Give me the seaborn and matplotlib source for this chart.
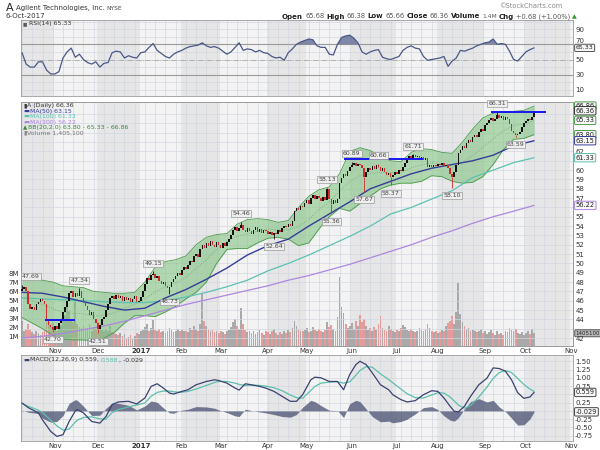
import matplotlib
matplotlib.use("Agg")
import matplotlib.pyplot as plt
import numpy as np
import seaborn as sns
from matplotlib.transforms import blended_transform_factory as blend

# ---------------- data ----------------
MONTH_IDX = [16, 37, 58, 78, 97, 120, 139, 161, 183, 203, 226, 246, 268]
MONTH_LBL = ['Nov', 'Dec', '2017', 'Feb', 'Mar', 'Apr', 'May', 'Jun', 'Jul', 'Aug', 'Sep', 'Oct', 'Nov']

OPEN0 = 47.0
CLOSE = [
    47.3, 47.5, 47.0, 45.6, 45.1, 45.3, 45.0, 45.6, 45.9, 46.2,
    46.0, 45.7, 43.8, 43.4, 43.2, 42.9, 43.3, 43.0, 43.6, 44.0,
    44.8, 45.3, 46.0, 46.8, 47.0, 46.4, 46.8, 46.5, 47.0, 46.3,
    45.8, 45.4, 45.0, 44.5, 44.8, 44.0, 43.6, 43.0, 43.4, 44.0,
    44.3, 45.0, 45.6, 46.3, 46.5, 46.2, 46.6, 46.3, 46.5, 46.0,
    46.4, 46.1, 46.3, 45.9, 46.2, 46.5, 45.9, 46.0, 46.4, 47.0,
    47.8, 48.4, 48.2, 48.8, 48.9, 48.4, 48.7, 48.1, 47.8, 48.0,
    47.6, 47.4, 47.5, 48.0, 48.3, 48.6, 49.0, 48.8, 49.3, 49.6,
    49.4, 49.8, 50.3, 50.1, 50.8, 51.0, 50.7, 51.5, 52.0, 51.6,
    52.2, 51.9, 52.4, 52.0, 51.8, 52.3, 52.0, 51.7, 52.2, 51.9,
    52.3, 52.6, 53.0, 53.6, 53.9, 53.5, 53.8, 54.1, 53.6, 53.4,
    53.8, 53.5, 53.2, 53.6, 53.9, 53.4, 53.7, 53.3, 53.6, 53.5,
    53.2, 53.4, 53.0, 53.3, 53.1, 53.6, 53.4, 53.8, 54.0, 53.9,
    54.2, 54.0, 54.6, 55.6, 55.9, 55.7, 56.2, 56.0, 56.5, 56.8,
    56.4, 57.0, 57.3, 56.9, 57.2, 57.0, 56.7, 57.1, 56.8, 58.0,
    56.9, 56.4, 56.8, 56.5, 56.9, 58.6, 59.2, 59.6, 59.4, 59.9,
    60.3, 60.6, 60.8, 60.4, 60.7, 60.5, 60.2, 59.3, 59.8, 60.2,
    60.0, 60.4, 60.1, 60.5, 60.3, 59.9, 60.2, 59.8, 59.5, 59.7,
    59.3, 59.5, 59.8, 59.6, 60.0, 59.9, 60.3, 60.8, 61.2, 61.5,
    61.3, 61.6, 61.4, 61.5, 61.2, 61.4, 61.1, 61.3, 60.3, 60.5,
    60.3, 60.6, 60.4, 60.7, 60.5, 60.8, 60.4, 60.6, 60.2, 59.6,
    59.3, 59.8, 60.5, 61.8, 62.2, 62.6, 62.4, 62.9, 63.2, 63.0,
    63.5, 63.8, 63.6, 64.1, 64.4, 64.2, 64.8, 65.1, 65.4, 65.6,
    65.3, 65.5, 65.9, 65.6, 65.8, 65.4, 65.7, 65.5, 64.9, 64.2,
    64.0, 63.8, 63.9, 64.1, 64.6, 65.0, 65.3, 65.5, 65.4, 65.68,
    66.36]

VOLUME_M = [
    2.8, 1.6, 1.9, 2.4, 1.8, 1.5, 1.3, 1.6, 1.4, 1.2,
    1.5, 1.7, 3.2, 2.6, 2.2, 2.5, 1.9, 1.6, 2.0, 2.3,
    2.8, 3.4, 4.6, 3.9, 3.0, 2.6, 5.0, 2.4, 2.1, 2.0,
    2.2, 1.8, 2.0, 2.4, 1.7, 2.1, 1.9, 2.6, 2.0, 1.8,
    1.6, 1.9, 1.7, 2.2, 1.5, 1.4, 1.3, 1.2, 1.4, 1.1,
    1.3, 0.9, 1.0, 1.2, 0.8, 1.1, 1.4, 1.3, 1.6, 1.8,
    2.1, 2.4, 1.7, 2.0, 2.9, 1.8, 1.6, 1.9, 1.5, 1.7,
    1.4, 1.6, 2.0, 1.8, 1.5, 1.7, 1.9, 1.6, 1.8, 1.6,
    1.7, 1.5, 2.0, 1.8, 2.2, 1.9, 1.7, 2.4, 5.8, 2.8,
    2.2, 1.9, 1.6, 1.8, 1.5, 1.7, 1.4, 1.6, 1.5, 1.3,
    1.6, 1.8, 2.1, 2.6, 3.0, 2.2, 1.9, 4.2, 2.4, 1.8,
    1.5, 1.7, 1.4, 1.6, 1.3, 1.5, 1.8, 1.4, 1.2, 1.6,
    1.5, 1.3, 1.7, 1.9, 1.4, 1.2, 1.5, 1.3, 1.6, 1.4,
    1.8, 1.5, 2.0, 2.8, 2.2, 1.9, 1.7, 1.6, 1.8, 2.0,
    1.5, 1.7, 2.1, 1.8, 1.6, 1.9, 1.7, 1.5, 1.8, 2.6,
    2.1, 2.3, 1.9, 1.7, 3.2, 7.6, 4.3, 3.6, 2.4, 2.0,
    2.2, 2.5, 1.9, 2.8, 2.2, 3.4, 2.6, 3.0, 2.2, 1.8,
    2.0, 1.7, 2.1, 1.9, 2.4, 3.3, 2.0, 1.8, 1.6, 2.2,
    1.9, 1.7, 1.5, 1.8, 1.6, 2.0, 2.3, 2.1, 1.8, 1.7,
    1.9, 1.6, 1.5, 1.7, 2.0, 1.8, 1.6, 1.9, 2.4, 2.0,
    1.7, 1.5, 1.6, 1.4, 1.5, 1.8, 1.6, 2.2, 2.5, 2.8,
    3.3, 2.4, 3.8, 6.9, 3.5, 2.6, 2.2, 1.9, 2.0, 1.7,
    1.8, 1.6, 1.5, 1.7, 1.9, 1.4, 1.6, 1.3, 1.5, 1.8,
    1.4, 1.2, 1.6, 1.3, 1.4, 1.2, 1.7, 1.5, 2.0, 1.8,
    1.6, 1.9, 1.4, 1.3, 1.5, 1.2, 1.4, 1.6, 1.3, 1.9,
    1.405]

HI_IDX = [0, 28, 64, 107, 149, 161, 174, 191, 232]
HI_VAL = [47.69, 47.34, 49.15, 54.46, 58.13, 60.89, 60.66, 61.71, 66.31]
LO_IDX = [15, 37, 72, 123, 151, 167, 180, 210, 241]
LO_VAL = [42.70, 42.51, 46.73, 52.64, 55.36, 57.67, 58.37, 58.10, 63.59]

LEVEL_X0 = [11, 157, 229]
LEVEL_X1 = [26, 196, 256]
LEVEL_Y = [43.9, 61.2, 66.2]

BB_STEP = 5
BB_UPPER = [
    48.5, 48.4, 48.2, 48.0, 47.6, 47.5, 47.4, 47.0, 46.9, 46.8,
    46.8, 46.9, 48.0, 49.6, 50.2, 50.4, 50.8, 52.0, 52.8, 53.1,
    53.2, 54.2, 54.7, 54.8, 54.7, 54.4, 54.6, 56.0, 57.2, 57.9,
    58.2, 59.6, 62.0, 62.4, 62.1, 61.5, 61.0, 60.9, 61.9, 62.3,
    62.2, 61.9, 61.8, 63.0, 64.4, 65.6, 66.1, 66.2, 66.3, 66.4,
    66.86]
BB_LOWER = [
    44.2, 43.6, 43.0, 42.3, 41.9, 41.8, 41.8, 41.7, 42.0, 42.6,
    43.6, 44.4, 44.4, 44.3, 44.8, 45.4, 46.2, 46.9, 48.0, 50.0,
    51.5, 51.6, 51.6, 52.2, 52.7, 52.8, 52.6, 51.9, 52.2, 53.7,
    55.0, 55.9, 55.6, 56.4, 57.2, 58.0, 58.4, 58.6, 58.6, 58.8,
    59.4, 59.3, 58.8, 58.6, 58.7, 59.3, 60.6, 62.2, 63.3, 63.4,
    63.80]

MA_STEP = 10
MA50 = [46.9, 46.8, 46.4, 45.9, 45.4, 45.0, 45.2, 46.3, 47.2, 48.3,
        49.5, 50.9, 51.9, 52.6, 54.0, 55.3, 56.6, 58.0, 58.8, 59.6,
        60.2, 60.6, 61.0, 61.6, 62.6, 63.15]
MA100 = [46.3, 46.2, 46.1, 46.0, 45.9, 45.8, 45.8, 46.0, 46.4, 46.9,
         47.5, 48.2, 49.2, 50.0, 50.9, 51.9, 52.9, 54.0, 55.3, 56.0,
         56.9, 57.8, 59.2, 60.0, 60.8, 61.33]
MA200 = [42.0, 42.2, 42.5, 42.9, 43.3, 43.8, 44.4, 45.0, 45.6, 46.1,
         46.6, 47.1, 47.6, 48.2, 48.7, 49.3, 49.9, 50.6, 51.3, 52.0,
         52.8, 53.5, 54.3, 55.0, 55.6, 56.22]

RSI_STEP = 2
RSI = [59, 44, 40, 40, 47, 47, 36, 31, 31, 34,
       52, 60, 65, 53, 57, 50, 46, 44, 47, 40,
       45, 46, 59, 61, 60, 52, 55, 53, 52, 59,
       60, 66, 71, 62, 58, 54, 52, 57, 60, 62,
       65, 67, 68, 69, 72, 68, 66, 67, 65, 61,
       57, 60, 66, 72, 62, 64, 63, 60, 62, 59,
       58, 54, 52, 53, 49, 59, 64, 70, 73, 75,
       77, 76, 68, 66, 66, 57, 56, 70, 79, 81,
       82, 78, 72, 60, 57, 60, 62, 63, 53, 51,
       50, 52, 54, 62, 66, 68, 65, 64, 54, 49,
       50, 51, 52, 54, 41, 48, 52, 62, 61, 63,
       65, 68, 70, 72, 73, 77, 70, 71, 70, 61,
       50, 48, 54, 60, 63, 65.33]

MACD_IDX = [0, 3, 8, 10, 14, 17, 20, 23, 26, 27, 30, 34, 38, 41, 44, 47, 52, 56,
            60, 63, 66, 69, 72, 74, 77, 81, 85, 90, 94, 96, 100, 104, 106, 109,
            112, 116, 119, 123, 127, 131, 134, 137, 141, 143, 146, 150, 154, 157,
            160, 163, 165, 168, 171, 175, 179, 181, 185, 188, 192, 196, 200, 203,
            206, 209, 211, 213, 216, 219, 223, 227, 230, 233, 236, 239, 242, 245,
            248, 250]
MACD = [0.24, 0.10, -0.06, -0.27, -0.62, -0.77, -0.72, -0.32, 0.00, 0.04, -0.06,
        -0.32, -0.37, -0.17, 0.19, 0.27, 0.29, 0.21, 0.39, 0.74, 0.82, 0.69, 0.54,
        0.51, 0.57, 0.64, 0.79, 0.89, 0.94, 0.92, 0.84, 0.69, 0.63, 0.82, 0.79,
        0.74, 0.69, 0.59, 0.44, 0.29, 0.29, 0.49, 0.94, 1.02, 1.00, 0.89, 0.89,
        0.64, 1.10, 1.40, 1.50, 1.40, 1.15, 0.79, 0.64, 0.49, 0.34, 0.27, 0.31,
        0.49, 0.61, 0.59, 0.39, 0.14, -0.01, -0.03, 0.14, 0.44, 0.79, 0.99, 1.30,
        1.28, 1.20, 0.94, 0.55, 0.38, 0.42, 0.559]
SIGNAL = [0.22, 0.14, 0.02, -0.05, -0.28, -0.45, -0.58, -0.55, -0.34, -0.28, -0.20,
          -0.18, -0.24, -0.25, -0.05, 0.04, 0.12, 0.18, 0.24, 0.44, 0.56, 0.60, 0.60,
          0.58, 0.56, 0.59, 0.66, 0.77, 0.86, 0.89, 0.89, 0.84, 0.80, 0.77, 0.78,
          0.77, 0.75, 0.70, 0.61, 0.48, 0.40, 0.38, 0.62, 0.74, 0.84, 0.87, 0.88,
          0.84, 0.88, 1.08, 1.22, 1.34, 1.32, 1.12, 0.95, 0.85, 0.66, 0.52, 0.40,
          0.39, 0.48, 0.55, 0.54, 0.42, 0.30, 0.18, 0.08, 0.16, 0.42, 0.72, 0.98,
          1.16, 1.22, 1.16, 0.98, 0.80, 0.66, 0.588]

# ---------------- styling ----------------
sns.set_style("white")
plt.rcParams['font.family'] = ['DejaVu Sans']

W, H = 600, 450
BG, BG2, GRID, SPINE = '#f3f3f3', '#e6e6e6', '#d3d8e1', '#9b9b9b'
C_UP, C_DN = '#111111', '#d22b2b'
C_MA50, C_MA100, C_MA200 = '#363d98', '#5cc2b2', '#ad86e0'
C_BBF, C_BBE = '#80c380', '#4a9a4a'
C_RSI, C_MACD, C_SIG, C_HIST = '#4b5786', '#3b4270', '#5cbfae', '#4a5072'

fig = plt.figure(figsize=(6, 4.5), dpi=100)
fig.patch.set_facecolor('white')


def rect(x0, y0, x1, y1):
    return [x0 / W, 1 - y1 / H, (x1 - x0) / W, (y1 - y0) / H]


L, R = 21, 573
ax_rsi = fig.add_axes(rect(L, 20, R, 96))
ax_vol = fig.add_axes(rect(L, 102, R, 346))
ax_px = ax_vol.twinx()
ax_macd = fig.add_axes(rect(L, 355, R, 441))

XMIN, XMAX = -0.5, 269.0
starts = [-0.5] + [m - 0.5 for m in MONTH_IDX]
shade = [(starts[k], starts[k + 1]) for k in range(0, len(starts) - 1, 2)]


def base_panel(ax):
    ax.set_xlim(XMIN, XMAX)
    ax.set_facecolor(BG)
    for a, b in shade:
        ax.axvspan(a, b, color=BG2, lw=0, zorder=0)
    for xv in np.arange(0, 270, 5):
        ax.axvline(xv, color=GRID, lw=0.5, zorder=0.5)
    for s in ax.spines.values():
        s.set_color(SPINE)
        s.set_linewidth(0.6)
    ax.tick_params(length=0, labelsize=5, colors='#333333', pad=1.5)


for ax in (ax_rsi, ax_vol, ax_macd):
    base_panel(ax)
for s in ax_px.spines.values():
    s.set_color(SPINE)
    s.set_linewidth(0.6)
ax_px.tick_params(length=0, labelsize=5, colors='#333333', pad=2)


def box(ax, y, txt, ec, fc='#f6f6f6', tc='#222222', size=4.8):
    t = blend(ax.transAxes, ax.transData)
    ax.text(1.005, y, txt, transform=t, fontsize=size, va='center', ha='left', color=tc,
            bbox=dict(boxstyle='round,pad=0.18', fc=fc, ec=ec, lw=0.7), clip_on=False, zorder=10)


x = np.arange(len(CLOSE))
close = np.array(CLOSE)
opn = np.r_[OPEN0, close[:-1]]
up = close >= opn

# ---------------- RSI panel ----------------
rsi_x = np.arange(0, len(RSI) * RSI_STEP, RSI_STEP)
rsi = np.array(RSI, dtype=float)
for v in range(10, 101, 10):
    ax_rsi.axhline(v, color=GRID, lw=0.5, zorder=0.5)
ax_rsi.axhline(70, color='#9a9a9a', lw=0.8, zorder=1)
ax_rsi.axhline(30, color='#9a9a9a', lw=0.8, zorder=1)
ax_rsi.axhline(50, color='#a8a8a8', lw=0.6, ls='-.', zorder=1)
ax_rsi.fill_between(rsi_x, 70, rsi, where=rsi >= 70, interpolate=True,
                    color='#5a6590', alpha=0.75, lw=0, zorder=2)
sns.lineplot(x=rsi_x, y=rsi, ax=ax_rsi, color=C_RSI, lw=0.9, zorder=3)
ax_rsi.set_ylim(2, 102)
ax_rsi.yaxis.tick_right()
ax_rsi.set_yticks([10, 30, 50, 70, 90])
ax_rsi.set_xticks([])
ax_rsi.set_xlim(XMIN, XMAX)
ax_rsi.set_xlabel('')
ax_rsi.set_ylabel('')
for lbl in ax_rsi.get_yticklabels():
    if lbl.get_text() == '70':
        lbl.set_verticalalignment('bottom')
box(ax_rsi, 65.33, '65.33', '#555555', size=4.5)

# ---------------- price / volume panel ----------------
vol = np.array(VOLUME_M[:len(CLOSE)]) * 1e6
vcol = np.where(up[:len(vol)], '#a9a9a9', '#e69a9a')
ax_vol.bar(x[:len(vol)], vol, width=0.85, color=vcol, lw=0, zorder=2)
ax_vol.set_ylim(0, 26.9e6)
ax_vol.set_yticks([k * 1e6 for k in range(1, 9)])
ax_vol.set_yticklabels([f'{k}M' for k in range(1, 9)])
ax_vol.set_xticks(MONTH_IDX)
ax_vol.set_xticklabels(MONTH_LBL)
for lbl in ax_vol.get_xticklabels():
    if lbl.get_text() == '2017':
        lbl.set_fontweight('bold')
ax_vol.set_xlim(XMIN, XMAX)

for v in range(42, 67):
    ax_px.axhline(v, color=GRID, lw=0.5, zorder=0.5)

bb_x = np.arange(0, len(BB_UPPER) * BB_STEP, BB_STEP)
bu, bl = np.array(BB_UPPER), np.array(BB_LOWER)
ax_px.fill_between(bb_x, bl, bu, color=C_BBF, alpha=0.58, lw=0, zorder=2)
sns.lineplot(x=bb_x, y=bu, ax=ax_px, color=C_BBE, lw=0.6, zorder=2.5)
sns.lineplot(x=bb_x, y=bl, ax=ax_px, color=C_BBE, lw=0.6, zorder=2.5)
sns.lineplot(x=bb_x, y=(bu + bl) / 2, ax=ax_px, color='#78a878', lw=0.6, ls=':', zorder=2.5)

ma_x = np.arange(0, len(MA50) * MA_STEP, MA_STEP)
sns.lineplot(x=ma_x, y=MA200, ax=ax_px, color=C_MA200, lw=0.9, zorder=3)
sns.lineplot(x=ma_x, y=MA100, ax=ax_px, color=C_MA100, lw=0.9, zorder=3)
sns.lineplot(x=ma_x, y=MA50, ax=ax_px, color=C_MA50, lw=1.0, zorder=3)

ccol = np.where(up, C_UP, C_DN)
body = close - opn
body = np.where(np.abs(body) < 0.08, np.where(body >= 0, 0.08, -0.08), body)
ax_px.bar(x, body, bottom=opn, width=0.75, color=ccol, lw=0, zorder=5)

ax_px.hlines(LEVEL_Y, LEVEL_X0, LEVEL_X1, color='#1717f0', lw=1.4, zorder=6)

lab_kw = dict(fontsize=4.5, color='#444444', textcoords='offset points', zorder=8,
              bbox=dict(boxstyle='square,pad=0.15', fc='#eeeeee', ec='#9a9a9a', lw=0.5))
for i, v in zip(HI_IDX, HI_VAL):
    ax_px.vlines(i, close[i], v, color=ccol[i], lw=0.6, zorder=5)
    ax_px.annotate(f'{v:.2f}', xy=(i, v), xytext=(0, 4), va='bottom',
                   ha='left' if i < 3 else 'center', **lab_kw)
for i, v in zip(LO_IDX, LO_VAL):
    ax_px.vlines(i, v, close[i], color=ccol[i], lw=0.6, zorder=5)
    ax_px.annotate(f'{v:.2f}', xy=(i, v), xytext=(0, -4), va='top', ha='center', **lab_kw)

ax_px.set_ylim(41.15, 67.3)
px_ticks = [v for v in range(42, 63) if v not in (43, 56, 61)]
ax_px.set_yticks(px_ticks)
ax_px.set_xlim(XMIN, XMAX)
ax_px.set_xlabel('')
ax_px.set_ylabel('')

box(ax_px, 66.86, '66.86', C_BBE)
box(ax_px, 66.36, '66.36', '#333333')
box(ax_px, 65.33, '65.33', C_BBE)
box(ax_px, 63.80, '63.80', C_BBE)
box(ax_px, 63.15, '63.15', C_MA50)
box(ax_px, 61.33, '61.33', C_MA100)
box(ax_px, 56.22, '56.22', C_MA200)
box(ax_vol, 1.4051e6, '1405100', '#555555', fc='#b8b8b8', size=4.0)

# ---------------- MACD panel ----------------
mx = np.array(MACD_IDX)
m, s = np.array(MACD), np.array(SIGNAL)
for v in np.arange(-0.75, 1.51, 0.25):
    ax_macd.axhline(v, color=GRID, lw=0.5, zorder=0.5)
ax_macd.fill_between(mx, 0, m - s, color=C_HIST, alpha=0.75, lw=0, zorder=2)
sns.lineplot(x=mx, y=s, ax=ax_macd, color=C_SIG, lw=0.9, zorder=3)
sns.lineplot(x=mx, y=m, ax=ax_macd, color=C_MACD, lw=0.9, zorder=4)
ax_macd.set_ylim(-0.91, 1.69)
ax_macd.yaxis.tick_right()
mt = [-0.75, -0.5, -0.25, 0.25, 0.75, 1.0, 1.25, 1.5]
ax_macd.set_yticks(mt)
ax_macd.set_yticklabels([f'{v:.2f}' for v in mt])
ax_macd.set_xticks(MONTH_IDX)
ax_macd.set_xticklabels(MONTH_LBL)
for lbl in ax_macd.get_xticklabels():
    if lbl.get_text() == '2017':
        lbl.set_fontweight('bold')
ax_macd.set_xlim(XMIN, XMAX)
ax_macd.set_xlabel('')
ax_macd.set_ylabel('')
box(ax_macd, 0.559, '0.559', '#444444')
box(ax_macd, -0.029, '-0.029', '#444444')

# ---------------- texts ----------------
renderer = fig.canvas.get_renderer()


def rich(x_px, y_px, parts, ha='left', gap=2.0):
    objs = []
    for txt, col, wt, sz in parts:
        objs.append(fig.text(0, 1 - y_px / H, txt, fontsize=sz, color=col,
                             fontweight=wt, va='center', ha='left', zorder=20))
    widths = [o.get_window_extent(renderer).width for o in objs]
    total = sum(widths) + gap * (len(objs) - 1)
    x0 = x_px if ha == 'left' else x_px - total
    for o, w in zip(objs, widths):
        o.set_x(x0 / W)
        x0 += w + gap


rich(6, 8, [('A', '#222222', 'normal', 8), ('Agilent Technologies, Inc.', '#333333', 'normal', 5),
            ('NYSE', '#444444', 'normal', 4.3)])
rich(6, 16.5, [('6-Oct-2017', '#333333', 'normal', 5)])
rich(562, 6, [('©StockCharts.com', '#8a8a8a', 'normal', 4.8)], ha='right')
ohlc = [('Open', '#222', 'bold', 5), ('65.68', '#555', 'normal', 4.8),
        ('High', '#222', 'bold', 5), ('66.38', '#555', 'normal', 4.8),
        ('Low', '#222', 'bold', 5), ('65.66', '#555', 'normal', 4.8),
        ('Close', '#222', 'bold', 5), ('66.36', '#555', 'normal', 4.8),
        ('Volume', '#222', 'bold', 5), ('1.4M', '#555', 'normal', 4.3),
        ('Chg', '#222', 'bold', 5), ('+0.68 (+1.00%)', '#555', 'normal', 4.8),
        ('▲', '#2e9e2e', 'normal', 4.5)]
rich(577, 16.5, ohlc, ha='right')

rich(23, 24, [('▮▮', '#555555', 'normal', 3.5), ('RSI(14) 65.33', '#333333', 'normal', 4.5)], gap=1)

leg = [
    [('▮', '#333333', 'normal', 4.5), ('A (Daily) 66.36', '#333333', 'normal', 4.5)],
    [('▬', C_MA50, 'normal', 4.5), ('MA(50) 63.15', C_MA50, 'normal', 4.5)],
    [('▬', C_MA100, 'normal', 4.5), ('MA(100) 61.33', C_MA100, 'normal', 4.5)],
    [('▬', C_MA200, 'normal', 4.5), ('MA(200) 56.22', C_MA200, 'normal', 4.5)],
    [('▲', '#3a8a3a', 'normal', 4.0), ('BB(20,2.0) 63.80 - 65.33 - 66.86', '#3a8a3a', 'normal', 4.5)],
    [('▮', '#888888', 'normal', 4.5), ('Volume 1,405,100', '#777777', 'normal', 4.5)],
]
for k, parts in enumerate(leg):
    rich(23, 106 + k * 5.4, parts, gap=0.8)

rich(23, 360, [('▬', C_MACD, 'normal', 4.5), ('MACD(12,26,9) 0.559,', '#333333', 'normal', 4.5),
               ('0.588', C_SIG, 'normal', 4.5), (', -0.029', '#333333', 'normal', 4.5)], gap=1.2)

fig.savefig('out.png', dpi=100, facecolor='white')
